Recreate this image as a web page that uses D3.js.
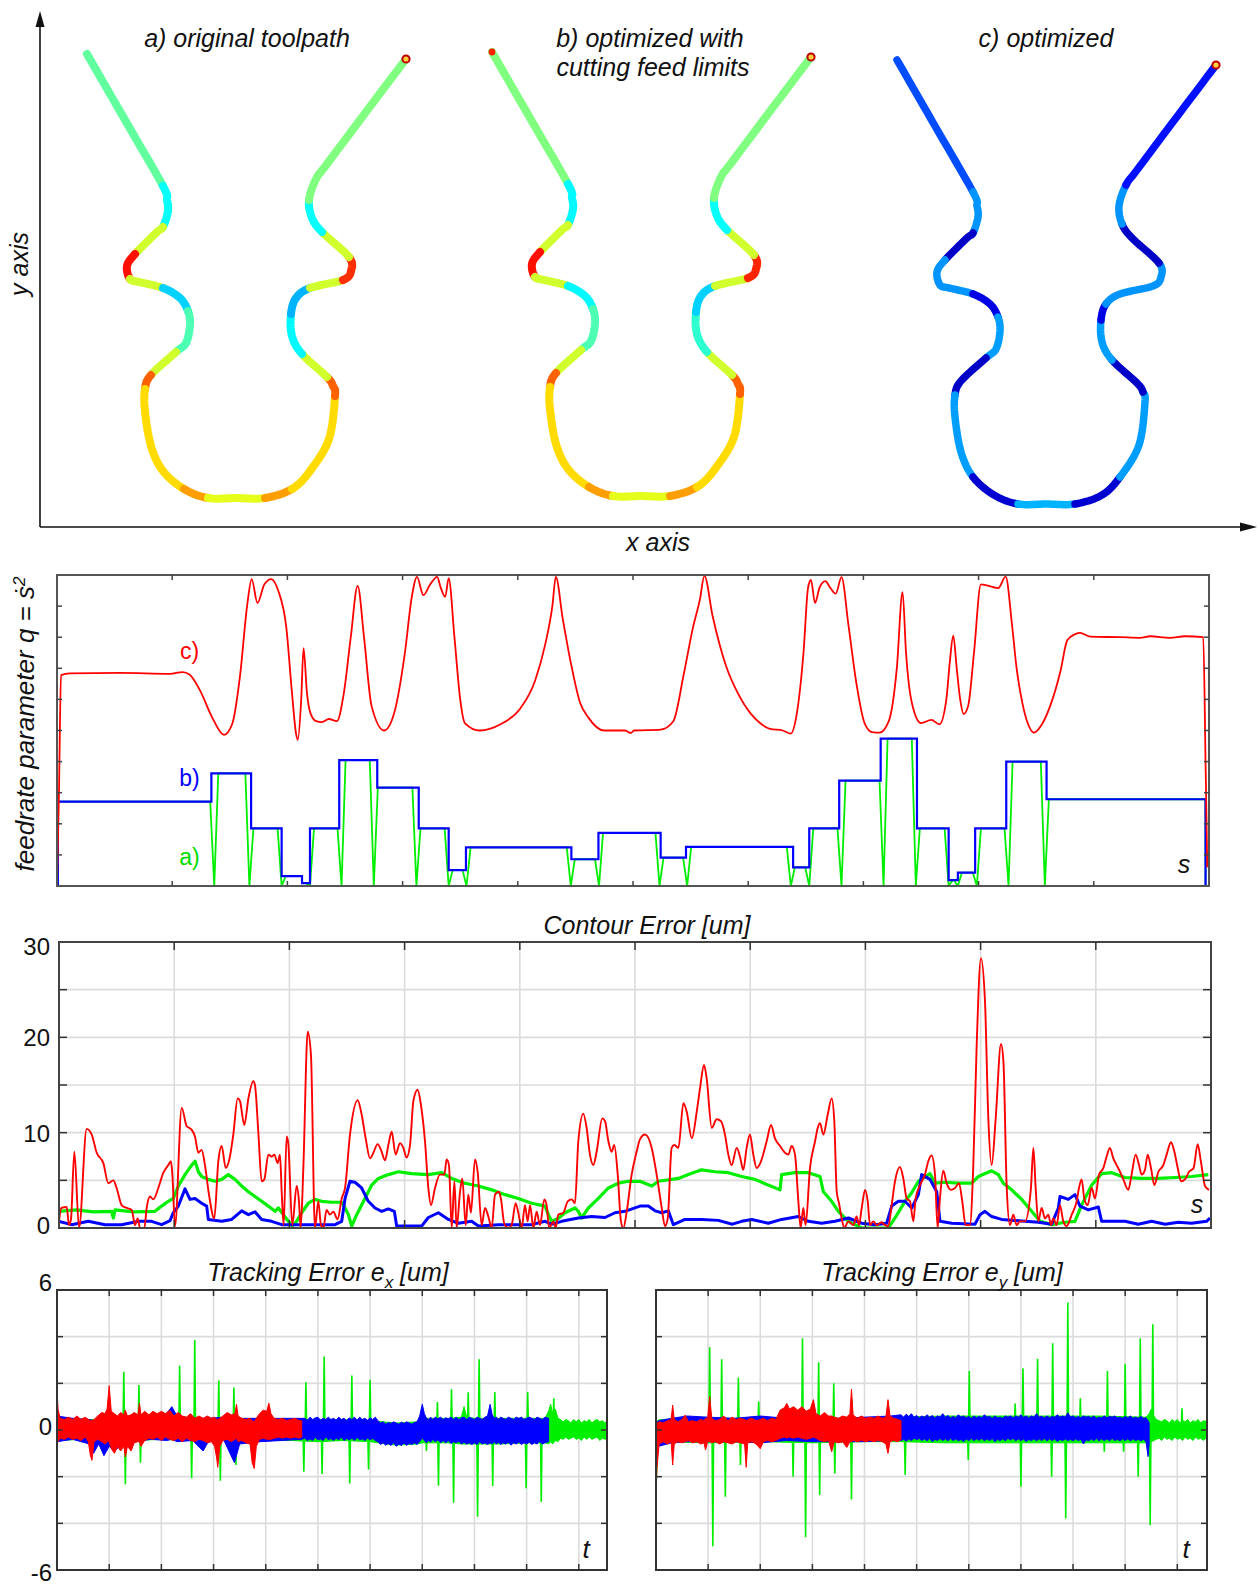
<!DOCTYPE html>
<html><head><meta charset="utf-8">
<script src="https://cdn.jsdelivr.net/npm/d3@7"></script>
<style>
body{margin:0;background:#fff}
svg{display:block}
text{font-family:"Liberation Sans",Arial,Helvetica,sans-serif;fill:#111}
</style></head>
<body><svg id="c" width="1258" height="1585"></svg>
<script>
// ================= DATA =================
// toolpath shape (arbitrary length units)
const pathShape = [[11.75,118.25],[21.25,101.75],[30.75,85.25],[31.75,81.75],[32,79],[30.75,75],[29.25,73.75],[23.75,68.25],[21.75,65.25],[22.5,62],[24.75,61.25],[30.75,59.75],[35,57.25],[37,54],[37.5,50.5],[36.5,46],[34,43.75],[27.75,38],[26.25,34.5],[26.25,29],[27.75,20.25],[30.75,14],[36,9.5],[42,7.25],[49,7.25],[56.25,7.25],[63,9.5],[67.5,14],[72.25,22],[73.75,32.75],[73.25,35.25],[71.75,37.5],[65.5,43.25],[63,47.75],[62.75,53.25],[64,57.25],[67.5,59.75],[75.75,61.75],[77.75,64],[77.25,67.5],[70.5,73.75],[68,77.25],[67.25,81.75],[69,87],[71.75,90.75],[81.6,103.9],[91.5,117]];
const pathOffsets = [[0,0],[101.25,0.5],[202.5,-1.5]];
const pathTitles = [["a) original toolpath"],["b) optimized with","cutting feed limits"],["c) optimized"]];
// feed colour runs [fromIndex, toIndex, normalised feed]
const feedColorsA = [[0,2,0.47],[2,5,0.38],[5,7,0.58],[7,9,0.86],[9,11,0.58],[11,13,0.33],[13,16,0.45],[16,17,0.58],[17,18,0.78],[18,22,0.66],[22,23,0.72],[23,25,0.6],[25,26,0.72],[26,29,0.66],[29,31,0.78],[31,32,0.58],[32,34,0.37],[34,36,0.3],[36,37,0.58],[37,39,0.83],[39,40,0.58],[40,42,0.38],[42,46,0.5]];
const feedColorsB = [[0,2,0.5],[2,5,0.37],[5,7,0.58],[7,9,0.86],[9,11,0.58],[11,13,0.37],[13,16,0.45],[16,17,0.58],[17,18,0.78],[18,22,0.66],[22,23,0.72],[23,25,0.6],[25,26,0.72],[26,29,0.66],[29,31,0.78],[31,32,0.58],[32,34,0.42],[34,36,0.33],[36,37,0.58],[37,39,0.84],[39,40,0.58],[40,42,0.38],[42,46,0.5]];
const feedColorsC = [[0,2,0.2],[2,5,0.27],[5,7,0.07],[7,11,0.27],[11,13,0.1],[13,16,0.28],[16,18,0.07],[18,21,0.28],[21,23,0.08],[23,25,0.3],[25,27,0.08],[27,30,0.28],[30,32,0.07],[32,34,0.28],[34,35,0.1],[35,39,0.27],[39,41,0.07],[41,43,0.27],[43,46,0.14]];

// feedrate parameter panel (s: 0..100, q: 0..10)
const feedC = [[0,0],[0.17,3],[0.35,6.78],[1.1,6.84],[5.5,6.85],[9.8,6.82],[10.9,6.88],[11.5,6.8],[12.4,6.3],[13.5,5.4],[14.5,4.86],[15.2,5.2],[15.9,6.8],[16.5,9.0],[16.9,9.87],[17.4,9.1],[18.0,9.7],[18.6,9.87],[19.2,9.5],[19.9,8.33],[20.4,6.2],[20.75,4.9],[20.9,4.7],[21.2,6.0],[21.4,7.65],[21.7,6.2],[22.0,5.56],[22.5,5.3],[23.0,5.27],[23.6,5.37],[24.3,5.3],[24.9,6.2],[25.5,8.0],[26.1,9.65],[26.65,8.0],[27.3,5.8],[28.4,5.0],[29.3,5.6],[30.2,7.5],[30.8,9.3],[31.25,9.94],[31.8,9.35],[32.4,9.7],[33.0,9.94],[33.3,9.6],[33.7,9.3],[34.0,9.9],[34.5,8.0],[35.0,6.0],[35.4,5.24],[36.7,5.0],[38.5,5.2],[40.2,5.7],[41.5,6.6],[42.4,7.8],[43.0,9.0],[43.3,9.94],[43.9,8.6],[44.7,7.0],[45.4,5.9],[46.1,5.43],[47.5,5.0],[49.3,5.0],[49.8,4.92],[50.1,5.0],[52.4,5.03],[53.5,5.3],[54.4,6.8],[55.2,8.3],[55.8,9.2],[56.2,9.97],[56.9,8.7],[58.1,7.05],[59.1,6.2],[60.2,5.55],[61.0,5.25],[61.9,5.05],[63.0,5.0],[63.7,4.9],[64.2,5.5],[64.8,7.5],[65.2,9.6],[65.45,9.84],[65.8,9.1],[66.2,9.6],[66.7,9.8],[67.1,9.6],[67.6,9.4],[68.1,9.93],[68.7,8.4],[69.4,6.5],[70.1,5.24],[70.75,4.95],[71.4,4.93],[72.2,5.3],[72.9,7.0],[73.4,9.45],[73.7,7.5],[74.2,5.9],[75.0,5.24],[75.9,5.34],[76.6,5.2],[77.2,6.0],[77.5,7.2],[77.8,8.05],[78.1,7.0],[78.4,6.0],[78.7,5.53],[79.1,5.8],[79.6,7.5],[80.2,9.7],[81.7,9.58],[82.35,9.95],[82.9,8.4],[83.3,7.0],[83.8,5.88],[84.3,5.2],[84.8,4.93],[85.5,5.2],[86.3,5.88],[87.1,6.9],[87.7,7.9],[88.4,8.1],[88.8,8.14],[89.7,8.02],[92.3,8.0],[94.0,7.98],[94.9,8.03],[96.6,7.98],[97.9,8.03],[99.5,8.0],[99.7,4],[99.85,0.6]];
const feedBSteps = [[0.08,2.71],[13.4,3.62],[16.85,1.85],[19.5,0.32],[21.27,0.09],[21.96,1.85],[24.5,4.05],[27.8,3.16],[31.4,1.85],[34.0,0.51],[35.5,1.24],[44.65,0.86],[47.0,1.71],[52.4,0.91],[54.6,1.26],[63.9,0.6],[65.3,1.85],[67.9,3.39],[71.5,4.74],[74.65,1.85],[77.4,0.19],[78.2,0.43],[79.7,1.85],[82.4,4.0],[85.9,2.79],[99.7,0]];
const feedADips = [13.65,16.7,19.5,21.96,24.7,27.5,31.2,34.0,35.55,44.6,47.05,52.3,54.7,63.7,65.3,68.1,71.75,74.55,77.4,78.2,79.85,82.6,85.75];
const feedLabels = [["c)",7.3,"#ff0000"],["b)",3.2,"#0000ff"],["a)",0.68,"#00dd00"]];

// contour error (s: 0..100, um)
const ceRed = [[0,0.7],[0.2,2.1],[0.67,2.2],[0.87,0.3],[1.04,0.9],[1.33,8.0],[1.74,0],[2.4,10.4],[2.84,9.8],[3.27,7.9],[3.85,6.8],[4.28,4.7],[4.72,5.0],[5.0,4.2],[5.44,2.4],[5.87,2.1],[6.31,1.9],[6.6,0.3],[6.83,1.0],[7.03,0],[7.41,0],[7.61,2.1],[7.9,3.3],[8.19,3.0],[8.62,4.2],[9.06,5.8],[9.49,6.6],[9.72,7.0],[9.84,5.6],[10.07,0.2],[10.65,12.6],[11.08,10.7],[11.52,10.3],[11.8,9.6],[12.1,7.9],[12.38,8.2],[12.67,6.6],[13.02,3.5],[13.48,1.0],[13.83,7.0],[14.12,8.6],[14.47,6.3],[14.84,7.5],[15.13,9.8],[15.51,13.6],[15.71,13.3],[16.09,10.8],[16.44,13.6],[16.87,15.4],[17.01,15.0],[17.3,10.1],[17.59,4.9],[17.82,5.1],[18.17,7.7],[18.46,7.5],[18.69,7.7],[18.98,6.8],[19.18,7.7],[19.33,3.8],[19.5,0.3],[19.76,9.6],[19.9,8.9],[20.25,0.3],[20.63,4.4],[20.83,2.8],[20.98,0],[21.21,6.3],[21.59,20.6],[21.87,18.2],[22.22,0],[22.51,2.8],[22.74,0.3],[22.95,0],[23.23,1.9],[23.52,1.4],[23.81,1.7],[24.19,0.9],[24.54,3.1],[24.83,4.2],[25.26,9.8],[25.93,13.4],[26.27,11.9],[26.62,9.4],[27.0,7.3],[27.29,7.9],[27.66,8.8],[27.95,8.2],[28.3,7.1],[28.59,8.7],[28.88,10.1],[29.22,7.7],[29.6,8.9],[29.89,8.4],[30.17,7.4],[30.47,8.7],[30.76,13.3],[31.13,14.5],[31.42,12.9],[31.77,9.1],[32.06,4.2],[32.29,2.4],[32.64,4.2],[33.07,5.6],[33.45,5.6],[33.65,7.2],[33.85,6.6],[34.09,0],[34.32,4.9],[34.52,0],[34.81,3.8],[35.01,5.2],[35.3,0.3],[35.53,3.5],[35.76,1.6],[36.11,7.2],[36.34,5.9],[36.69,0.3],[36.98,2.1],[37.27,1.2],[37.56,0],[37.85,3.5],[38.19,3.8],[38.37,3.0],[38.66,0.4],[39.0,0],[39.29,0.3],[39.64,2.6],[39.87,1.6],[40.16,0],[40.45,2.4],[40.68,0.7],[40.89,2.4],[41.18,0],[41.46,1.7],[41.75,0.3],[42.13,3.0],[42.33,2.4],[42.54,0],[42.92,0.7],[43.11,0],[43.34,1.4],[43.78,1.6],[44.16,2.8],[44.5,3.0],[44.79,2.6],[45.08,9.1],[45.51,12.0],[45.8,10.5],[46.09,7.7],[46.38,6.6],[46.67,8.0],[47.16,11.5],[47.4,11.2],[47.69,9.1],[47.97,8.0],[48.2,8.7],[48.5,5.6],[48.78,0.7],[48.99,0],[49.28,1.7],[49.71,5.6],[50.14,8.0],[50.43,9.3],[50.87,9.8],[51.45,8.4],[51.88,5.6],[52.32,2.1],[52.6,0.2],[52.84,1.0],[53.18,8.4],[53.42,8.7],[53.77,8.4],[54.2,13.1],[54.49,12.2],[54.93,9.4],[55.36,12.2],[55.65,14.7],[55.99,17.1],[56.22,15.7],[56.66,10.5],[57.09,11.4],[57.47,11.2],[57.81,9.8],[58.1,7.7],[58.39,6.6],[58.83,8.4],[59.11,7.5],[59.4,6.1],[59.69,8.4],[59.98,9.8],[60.27,7.7],[60.56,6.3],[60.94,7.0],[61.43,9.1],[61.81,10.8],[62.15,9.4],[62.59,8.6],[63.02,7.9],[63.31,7.7],[63.6,8.6],[63.89,7.7],[64.18,2.8],[64.38,0],[64.61,2.1],[64.81,0.3],[65.19,6.3],[65.63,9.1],[65.86,10.5],[66.06,11.0],[66.35,9.8],[66.73,11.9],[67.07,13.6],[67.3,11.2],[67.51,3.8],[67.71,2.6],[67.94,1.0],[68.17,0],[68.52,0.7],[68.95,0.3],[69.24,1.2],[69.44,0.3],[69.68,2.1],[69.97,4.0],[70.2,2.8],[70.4,0.3],[70.69,0.7],[70.98,0.3],[71.41,0.6],[71.7,0.3],[71.99,0.2],[72.28,2.4],[72.57,4.9],[73.0,6.4],[73.29,5.2],[73.58,3.1],[73.87,2.8],[74.16,0.7],[74.36,3.1],[74.74,4.5],[75.17,5.6],[75.46,7.0],[75.75,7.6],[76.04,5.6],[76.27,0],[76.47,3.1],[76.76,6.0],[77.05,4.7],[77.43,4.0],[77.78,4.2],[78.12,4.7],[78.41,2.8],[78.7,0.3],[79.07,0.3],[79.36,6.3],[79.66,19.2],[80.03,28.3],[80.38,23.8],[80.67,11.5],[80.96,6.6],[81.31,11.5],[81.77,19.3],[81.98,17.5],[82.26,4.5],[82.55,0.3],[82.84,1.4],[83.13,0.3],[83.42,0.7],[83.85,0.7],[84.37,4.2],[84.58,8.4],[84.78,4.2],[85.01,0.7],[85.3,2.1],[85.59,1.0],[85.88,1.4],[86.11,0.3],[86.31,1.0],[86.6,0.3],[86.89,2.4],[87.18,0.7],[87.47,0.2],[87.91,1.4],[88.34,2.8],[88.54,4.2],[88.77,5.1],[89.0,3.1],[89.29,2.4],[89.64,4.2],[89.93,3.1],[90.28,5.6],[90.66,6.3],[90.94,7.5],[91.23,8.4],[91.52,7.3],[91.81,6.6],[92.1,5.9],[92.39,5.1],[92.82,4.0],[93.11,5.6],[93.46,7.7],[93.75,6.6],[93.98,5.6],[94.27,6.1],[94.5,7.7],[94.79,6.3],[95.08,4.5],[95.43,5.9],[95.86,6.6],[96.15,7.7],[96.53,9.0],[96.82,8.0],[97.11,6.3],[97.4,4.9],[97.74,5.1],[98.09,5.9],[98.49,6.3],[98.84,8.8],[99.12,7.0],[99.48,4.4],[99.83,4.0]];
const ceGreen = [[0,1.75],[1.5,1.9],[3,1.7],[4.57,1.75],[4.72,1.05],[4.86,1.9],[6.5,1.7],[8.33,1.75],[8.91,2.3],[9.49,2.8],[9.92,3.1],[10.36,4.4],[10.94,5.6],[11.52,6.6],[11.81,7.0],[12.1,5.9],[12.38,5.4],[12.96,5.1],[13.54,4.9],[14.12,5.1],[14.7,5.6],[15.28,5.1],[15.86,4.4],[16.44,3.8],[17.01,3.3],[17.59,2.8],[18.17,2.3],[18.75,1.75],[19.04,2.1],[19.47,1.4],[19.91,0.7],[20.25,0.2],[20.63,0.7],[21.06,1.6],[21.64,2.6],[22.22,3.0],[22.8,2.8],[23.67,2.7],[24.54,2.7],[24.83,2.1],[25.12,1.4],[25.41,0.2],[25.84,1.4],[26.56,3.1],[27.14,4.5],[27.72,5.2],[28.59,5.6],[29.46,5.9],[30.61,5.7],[32.06,5.6],[33.22,5.8],[34.09,5.2],[35.24,4.7],[36.4,4.4],[37.56,4.0],[38.72,3.5],[39.87,3.1],[41.03,2.6],[42.19,2.3],[42.48,1.4],[42.77,0.7],[43.34,1.0],[43.92,1.6],[44.79,2.1],[45.08,1.75],[45.37,1.05],[45.95,2.1],[46.82,3.1],[47.69,4.2],[48.55,4.7],[49.42,4.9],[50.43,4.9],[51.45,4.4],[52.03,4.9],[53.76,5.2],[54.63,5.6],[55.79,6.1],[56.94,5.9],[58.1,5.8],[59.26,5.4],[60.42,5.1],[61.57,4.5],[62.59,4.0],[62.73,5.6],[63.89,5.8],[65.05,5.8],[66.06,5.4],[66.35,3.8],[67.07,2.8],[67.65,1.75],[68.52,0.7],[69.68,0],[72.0,0],[72.57,1.05],[73.44,2.8],[74.02,3.7],[74.6,4.9],[75.61,5.7],[76.04,4.7],[76.91,4.8],[78.07,4.7],[79.22,4.7],[79.8,5.4],[80.96,6.0],[81.54,5.6],[81.97,4.7],[82.7,4.0],[83.56,3.0],[84.43,1.75],[85.16,0.7],[86.17,0.35],[87.33,0.6],[88.19,0.7],[88.77,2.4],[89.64,4.5],[90.51,5.7],[91.38,5.8],[92.53,5.3],[93.98,5.2],[95.43,5.2],[96.88,5.3],[98.32,5.4],[99.77,5.6]];
const ceBlue = [[0,0.7],[1.1,0.35],[2.55,0.7],[3.99,0.35],[5.44,0.35],[6.89,0.7],[8.04,0.7],[8.91,0.35],[9.64,0.77],[9.92,1.6],[10.36,2.3],[10.94,4.1],[11.37,3.0],[11.81,3.1],[12.38,2.6],[12.82,2.3],[12.96,0.9],[14.12,0.7],[14.99,0.9],[15.86,1.8],[16.44,1.4],[17.01,1.7],[17.59,0.9],[18.46,0.7],[19.33,0.35],[21.64,0.35],[23.96,0.35],[24.54,0.7],[24.83,3.1],[25.26,4.9],[25.69,4.8],[26.27,4.2],[26.85,2.8],[27.43,2.1],[28.01,1.75],[28.59,2.0],[29.11,1.75],[29.31,0.2],[31.48,0.2],[32.06,1.1],[32.93,1.6],[33.8,0.9],[34.66,0.5],[35.82,0.7],[36.4,0.2],[38.14,0.35],[41.03,0.35],[42.19,0.7],[42.77,0.4],[43.63,0.7],[45.08,1.05],[46.24,1.2],[47.4,1.1],[48.26,1.6],[49.13,1.75],[50.43,2.3],[51.16,2.3],[51.74,1.8],[52.32,1.6],[52.89,1.8],[53.33,0.35],[54.34,0.9],[55.79,0.9],[57.23,0.8],[58.45,0.4],[59.26,0.7],[60.13,0.9],[61.57,0.5],[62.73,0.9],[64.18,1.2],[65.05,0.7],[66.2,0.5],[67.36,0.7],[68.52,1.05],[69.68,0.5],[70.83,0.35],[71.85,0.5],[72.28,2.3],[72.86,2.8],[73.44,2.8],[74.02,2.1],[74.6,3.5],[74.88,5.6],[75.61,5.1],[76.19,3.8],[76.48,0.7],[77.49,0.5],[79.51,0.4],[79.95,1.4],[80.38,1.75],[80.96,1.2],[81.83,0.9],[83.85,0.7],[85.02,0.6],[86.17,0.4],[86.75,2.1],[86.89,3.3],[87.62,3.0],[88.19,3.5],[88.63,2.3],[89.35,1.9],[90.22,2.2],[90.51,0.7],[92.53,0.7],[93.69,0.4],[94.85,0.7],[96.01,0.4],[97.16,0.6],[98.32,0.5],[99.62,0.7],[99.91,1.05]];
const ceTicks = [0,10,20,30];

// tracking error x: noise envelopes [t, low, high] and spikes [t, value]
const exGreen = [[0,-0.45,0.45],[0.5,-0.4,0.45],[1.0,-0.45,0.45],[1.5,-0.45,0.45],[2.0,-0.4,0.45],[2.5,-0.45,0.45],[3.0,-0.45,0.45],[3.5,-0.4,0.45],[4.0,-0.45,0.45],[4.5,-0.45,0.45],[5.0,-0.5,0.45],[5.5,-0.45,0.45],[6.0,-0.5,0.4],[6.5,-0.65,0.3],[6.9,-0.6,0.35],[7.0,-0.55,0.5],[7.5,-0.55,0.5],[7.75,-0.6,0.55],[7.8,-0.6,1.0],[7.85,-0.6,0.55],[8.0,-0.6,0.5],[8.5,-0.6,0.5],[9.0,-0.55,0.5],[9.35,-0.55,0.5],[9.42,-0.6,0.8],[9.46,-0.5,1.1],[9.5,-0.6,0.7],[9.55,-0.45,0.9],[9.6,-0.5,0.5],[9.65,-0.35,0.45],[9.7,-0.4,0.35],[9.75,-0.3,0.45],[9.8,-0.4,0.4],[9.85,-0.35,0.3],[9.9,-0.3,0.45],[9.95,-0.4,0.35],[10.0,-0.35,0.45],[10.05,-0.45,0.3],[10.1,-0.3,0.4],[10.15,-0.4,0.35],[10.2,-0.3,0.45],[10.25,-0.4,0.3],[10.3,-0.35,0.4],[10.35,-0.3,0.45],[10.4,-0.45,0.35],[10.45,-0.35,0.4],[10.5,-0.4,0.3],[10.54,-0.35,0.4]];
const exBlue = [[0,-0.5,0.6],[0.3,-0.4,0.5],[0.62,-0.6,0.45],[0.7,-1.0,0.4],[0.8,-0.6,0.5],[0.9,-1.1,0.45],[1.0,-0.7,0.5],[1.1,-0.9,0.45],[1.25,-0.6,0.5],[1.5,-0.5,0.55],[1.8,-0.4,0.6],[2.1,-0.45,0.7],[2.2,-0.4,1.0],[2.3,-0.5,0.6],[2.6,-0.45,0.5],[2.8,-0.9,0.5],[2.9,-0.5,0.5],[3.2,-0.45,0.55],[3.4,-1.4,0.5],[3.5,-0.6,0.5],[3.9,-0.5,0.5],[4.3,-0.45,0.5],[4.69,-0.4,0.5],[4.75,-0.35,0.5],[4.8,-0.45,0.42],[4.85,-0.38,0.55],[4.9,-0.45,0.45],[4.95,-0.32,0.52],[5.0,-0.42,0.55],[5.05,-0.38,0.42],[5.1,-0.45,0.5],[5.15,-0.3,0.45],[5.2,-0.42,0.55],[5.25,-0.36,0.45],[5.3,-0.45,0.5],[5.35,-0.35,0.42],[5.4,-0.42,0.55],[5.45,-0.3,0.45],[5.5,-0.45,0.5],[5.55,-0.36,0.4],[5.6,-0.42,0.52],[5.65,-0.35,0.45],[5.7,-0.45,0.55],[5.75,-0.32,0.42],[5.8,-0.42,0.55],[5.85,-0.38,0.45],[5.9,-0.45,0.5],[5.95,-0.35,0.42],[6.0,-0.42,0.52],[6.05,-0.36,0.45],[6.1,-0.45,0.55],[6.15,-0.5,0.4],[6.2,-0.62,0.3],[6.25,-0.55,0.35],[6.3,-0.65,0.25],[6.35,-0.58,0.32],[6.4,-0.66,0.28],[6.45,-0.55,0.35],[6.5,-0.7,0.3],[6.55,-0.6,0.25],[6.6,-0.66,0.33],[6.65,-0.56,0.28],[6.7,-0.65,0.35],[6.75,-0.58,0.3],[6.8,-0.62,0.25],[6.85,-0.55,0.32],[6.9,-0.62,0.35],[6.95,-0.5,0.6],[7.0,-0.35,1.1],[7.04,-0.45,0.7],[7.08,-0.55,0.5],[7.12,-0.45,0.45],[7.16,-0.52,0.55],[7.2,-0.4,0.45],[7.25,-0.5,0.55],[7.3,-0.42,0.48],[7.35,-0.55,0.55],[7.4,-0.45,0.45],[7.45,-0.55,0.52],[7.5,-0.45,0.48],[7.55,-0.58,0.55],[7.6,-0.5,0.45],[7.65,-0.55,0.55],[7.7,-0.48,0.45],[7.75,-0.6,0.52],[7.8,-0.52,0.55],[7.85,-0.6,0.45],[7.9,-0.55,0.55],[7.95,-0.62,0.5],[8.0,-0.55,0.45],[8.05,-0.62,0.55],[8.1,-0.5,0.5],[8.15,-0.6,0.45],[8.2,-0.55,0.55],[8.25,-0.62,0.6],[8.3,-0.55,1.1],[8.34,-0.6,0.65],[8.38,-0.5,0.5],[8.42,-0.6,0.55],[8.46,-0.52,0.45],[8.5,-0.62,0.55],[8.55,-0.55,0.5],[8.6,-0.6,0.45],[8.65,-0.52,0.55],[8.7,-0.65,0.5],[8.75,-0.55,0.45],[8.8,-0.6,0.55],[8.85,-0.52,0.5],[8.9,-0.62,0.55],[8.95,-0.55,0.45],[9.0,-0.6,0.5],[9.05,-0.52,0.55],[9.1,-0.62,0.5],[9.15,-0.55,0.45],[9.2,-0.6,0.55],[9.25,-0.5,0.5],[9.3,-0.6,0.45],[9.35,-0.55,0.55],[9.42,-0.5,0.5]];
const exRed = [[0,-0.6,1.7],[0.02,-0.5,0.9],[0.06,-0.35,0.5],[0.14,-0.4,0.45],[0.22,-0.3,0.55],[0.30,-0.4,0.45],[0.38,-0.35,0.6],[0.46,-0.45,0.45],[0.54,-0.3,0.55],[0.6,-0.5,0.45],[0.64,-1.1,0.4],[0.67,-1.3,0.4],[0.71,-0.5,0.45],[0.78,-0.4,0.6],[0.86,-0.5,0.75],[0.92,-0.6,0.7],[0.96,-0.5,0.9],[1.0,-0.5,1.9],[1.04,-0.8,0.8],[1.1,-1.0,0.7],[1.16,-0.7,0.6],[1.22,-0.9,0.75],[1.28,-0.7,0.65],[1.31,-1.15,0.85],[1.35,-0.7,0.6],[1.42,-0.9,0.65],[1.48,-0.55,0.75],[1.55,-0.5,0.65],[1.58,-0.5,1.15],[1.61,-0.7,0.65],[1.68,-0.45,0.8],[1.76,-0.35,0.65],[1.84,-0.4,0.8],[1.92,-0.3,0.7],[2.0,-0.45,0.8],[2.08,-0.3,0.7],[2.16,-0.4,0.85],[2.24,-0.45,0.6],[2.32,-0.35,0.75],[2.4,-0.5,0.6],[2.48,-0.35,0.55],[2.56,-0.45,0.7],[2.64,-0.5,0.5],[2.72,-0.4,0.6],[2.8,-0.45,0.5],[2.88,-0.55,0.6],[2.96,-0.5,0.5],[3.02,-0.7,0.55],[3.06,-1.2,0.45],[3.08,-1.6,0.45],[3.12,-0.7,0.5],[3.18,-0.45,0.6],[3.26,-0.4,0.75],[3.34,-0.5,0.65],[3.41,-0.4,0.7],[3.44,-0.35,1.1],[3.47,-0.5,0.6],[3.54,-0.45,0.5],[3.62,-0.55,0.45],[3.7,-0.6,0.5],[3.74,-1.4,0.4],[3.78,-1.65,0.35],[3.82,-0.7,0.5],[3.88,-0.4,0.7],[3.95,-0.35,0.85],[4.02,-0.4,0.8],[4.06,-0.4,1.15],[4.1,-0.4,0.7],[4.16,-0.35,0.5],[4.24,-0.3,0.45],[4.32,-0.35,0.5],[4.4,-0.3,0.4],[4.48,-0.35,0.45],[4.56,-0.3,0.5],[4.64,-0.35,0.4],[4.69,-0.3,0.4]];
const exSpikes = [[1.28,2.5],[1.31,-2.32],[1.57,1.93],[1.6,-1.4],[2.35,2.75],[2.58,-2.07],[2.64,3.86],[3.1,2.12],[3.13,-2.17],[3.39,1.82],[3.43,-1.5],[4.73,-1.79],[4.77,2.05],[5.08,-1.89],[5.12,3.15],[5.61,-2.29],[5.65,2.33],[5.97,-1.69],[6.0,2.15],[7.08,-0.9],[7.29,1.2],[7.31,-2.39],[7.56,1.75],[7.6,-3.12],[7.88,1.62],[8.06,-3.72],[8.09,3.03],[8.35,-2.4],[8.39,1.63],[8.99,-2.5],[9.02,1.63],[9.28,-3.08],[9.52,1.36]];

// tracking error y
const eyGreen = [[0,-3.0,0.3],[0.03,-0.8,0.4],[0.08,-0.5,0.45],[1,-0.55,0.5],[2,-0.5,0.5],[3,-0.55,0.5],[4,-0.5,0.5],[4.7,-0.5,0.55],[5.5,-0.55,0.6],[6.5,-0.55,0.6],[7.5,-0.55,0.6],[8.5,-0.55,0.6],[9.4,-0.55,0.55],[9.46,-0.6,0.7],[9.5,-0.5,0.9],[9.55,-0.45,0.6],[9.6,-0.4,0.45],[9.65,-0.35,0.4],[9.7,-0.45,0.35],[9.75,-0.3,0.45],[9.8,-0.4,0.4],[9.85,-0.35,0.3],[9.9,-0.45,0.45],[9.95,-0.3,0.35],[10.0,-0.4,0.45],[10.05,-0.35,0.3],[10.1,-0.45,0.4],[10.15,-0.3,0.35],[10.2,-0.4,0.45],[10.25,-0.35,0.3],[10.3,-0.45,0.4],[10.35,-0.3,0.35],[10.4,-0.4,0.45],[10.45,-0.35,0.3],[10.5,-0.45,0.4],[10.57,-0.3,0.35]];
const eyBlue = [[0,-1.3,0.3],[0.05,-0.7,0.4],[0.3,-0.55,0.5],[0.6,-0.5,0.6],[1.0,-0.5,0.55],[1.5,-0.5,0.5],[2.0,-0.55,0.6],[2.5,-0.45,0.5],[3.0,-0.5,0.55],[3.5,-0.5,0.5],[4.0,-0.5,0.55],[4.5,-0.45,0.6],[4.7,-0.45,0.65],[4.75,-0.4,0.55],[4.8,-0.48,0.68],[4.85,-0.38,0.58],[4.9,-0.45,0.7],[4.95,-0.35,0.55],[5.0,-0.42,0.62],[5.05,-0.36,0.52],[5.1,-0.45,0.6],[5.15,-0.38,0.55],[5.2,-0.46,0.65],[5.25,-0.36,0.55],[5.3,-0.5,0.62],[5.35,-0.4,0.52],[5.4,-0.45,0.6],[5.45,-0.36,0.55],[5.5,-0.45,0.7],[5.55,-0.38,0.55],[5.6,-0.46,0.62],[5.65,-0.36,0.52],[5.7,-0.45,0.58],[5.75,-0.38,0.52],[5.8,-0.46,0.65],[5.85,-0.4,0.55],[5.9,-0.5,0.6],[5.95,-0.38,0.52],[6.0,-0.45,0.58],[6.05,-0.36,0.5],[6.1,-0.45,0.6],[6.15,-0.38,0.52],[6.2,-0.44,0.58],[6.25,-0.36,0.52],[6.3,-0.46,0.65],[6.35,-0.38,0.55],[6.4,-0.45,0.58],[6.45,-0.36,0.5],[6.5,-0.5,0.6],[6.55,-0.4,0.52],[6.6,-0.45,0.55],[6.65,-0.38,0.5],[6.7,-0.46,0.6],[6.75,-0.36,0.55],[6.8,-0.42,0.6],[6.85,-0.36,0.52],[6.9,-0.46,0.6],[6.95,-0.38,0.55],[7.0,-0.45,0.65],[7.05,-0.38,0.55],[7.1,-0.5,0.6],[7.15,-0.4,0.52],[7.2,-0.45,0.6],[7.25,-0.38,0.55],[7.3,-0.46,0.7],[7.35,-0.38,0.55],[7.4,-0.45,0.58],[7.45,-0.36,0.52],[7.5,-0.46,0.6],[7.55,-0.38,0.52],[7.6,-0.45,0.58],[7.65,-0.38,0.55],[7.7,-0.5,0.65],[7.75,-0.4,0.55],[7.8,-0.45,0.6],[7.85,-0.38,0.55],[7.9,-0.45,0.74],[7.95,-0.4,0.55],[8.0,-0.46,0.6],[8.05,-0.38,0.52],[8.1,-0.45,0.58],[8.15,-0.4,0.52],[8.2,-0.6,0.6],[8.25,-0.42,0.55],[8.3,-0.46,0.58],[8.35,-0.38,0.52],[8.4,-0.45,0.6],[8.45,-0.36,0.5],[8.5,-0.46,0.55],[8.55,-0.38,0.52],[8.6,-0.45,0.6],[8.65,-0.38,0.52],[8.7,-0.46,0.58],[8.75,-0.36,0.55],[8.8,-0.45,0.6],[8.85,-0.4,0.52],[8.9,-0.46,0.55],[8.95,-0.38,0.5],[9.0,-0.45,0.58],[9.05,-0.38,0.52],[9.1,-0.46,0.6],[9.15,-0.38,0.5],[9.2,-0.45,0.55],[9.25,-0.4,0.5],[9.3,-0.46,0.58],[9.35,-0.4,0.5],[9.4,-0.5,0.52],[9.44,-1.14,0.4],[9.46,-0.6,0.3]];
const eyRed = [[0,-2.7,0.3],[0.02,-1.6,0.3],[0.06,-0.6,0.35],[0.14,-0.5,0.3],[0.22,-0.6,0.4],[0.29,-0.5,0.45],[0.32,-1.5,1.07],[0.35,-0.6,0.45],[0.42,-0.5,0.35],[0.5,-0.55,0.45],[0.56,-0.5,0.64],[0.62,-0.45,0.35],[0.7,-0.55,0.4],[0.78,-0.5,0.35],[0.86,-0.6,0.45],[0.92,-0.55,0.4],[0.95,-0.86,0.5],[0.99,-0.5,0.5],[1.03,-0.5,1.43],[1.07,-0.55,0.5],[1.14,-0.5,0.4],[1.22,-0.6,0.45],[1.3,-0.5,0.6],[1.38,-0.55,0.4],[1.46,-0.6,0.55],[1.54,-0.5,0.45],[1.62,-0.55,0.5],[1.7,-0.6,0.45],[1.73,-1.6,0.4],[1.76,-0.55,0.45],[1.84,-0.5,0.5],[1.92,-0.6,0.4],[2.0,-0.8,0.45],[2.06,-0.5,0.5],[2.14,-0.45,0.4],[2.22,-0.5,0.5],[2.3,-0.45,0.45],[2.38,-0.35,0.85],[2.46,-0.3,0.95],[2.51,-0.35,1.14],[2.56,-0.3,0.9],[2.64,-0.35,1.0],[2.72,-0.3,0.85],[2.8,-0.35,1.0],[2.88,-0.4,0.8],[2.96,-0.35,0.9],[3.02,-0.3,1.3],[3.07,-0.35,0.7],[3.15,-0.45,0.6],[3.23,-0.5,0.75],[3.31,-0.45,0.6],[3.37,-0.93,0.6],[3.42,-0.5,0.55],[3.5,-0.55,0.5],[3.58,-0.5,0.6],[3.66,-0.75,0.55],[3.72,-0.5,0.7],[3.75,-0.5,1.75],[3.78,-0.45,0.65],[3.86,-0.5,0.5],[3.94,-0.45,0.6],[4.02,-0.5,0.5],[4.1,-0.45,0.55],[4.18,-0.5,0.5],[4.26,-0.45,0.6],[4.34,-0.5,0.5],[4.41,-0.6,0.55],[4.45,-1.0,1.3],[4.49,-0.5,0.6],[4.56,-0.45,0.5],[4.64,-0.5,0.45],[4.7,-0.4,0.4]];
const eySpikes = [[1.03,3.55],[1.09,-4.98],[1.26,3.03],[1.33,-2.86],[1.58,2.25],[1.62,-1.5],[1.97,1.22],[2.63,-2.0],[2.81,3.93],[2.87,-4.6],[3.12,2.9],[3.14,-2.79],[3.41,2.0],[3.43,-1.86],[3.75,-2.98],[3.76,1.33],[4.78,-1.93],[5.99,-1.29],[6.01,2.53],[6.89,1.14],[7.0,-2.43],[7.04,2.65],[7.32,3.05],[7.59,-2.0],[7.61,3.72],[7.86,-3.79],[7.9,5.46],[8.14,1.36],[8.6,-0.93],[8.66,2.53],[8.97,-0.93],[9.0,2.83],[9.25,-2.0],[9.29,3.93],[9.48,-4.08],[9.53,4.53],[10.09,0.93]];
const teTicks = [-6,0,6];

// ================= DRAWING =================
const svg = d3.select('#c');
const RED = '#ff0000', GREEN = '#00ee00', BLUE = '#0000ff';
const jet = d3.scaleLinear().domain([0,0.125,0.375,0.625,0.875,1])
  .range(['#00007f','#0000ff','#00ffff','#ffff00','#ff0000','#7f0000']).interpolate(d3.interpolateRgb);
const defs = svg.append('defs');
function clip(id,x0,y0,x1,y1){defs.append('clipPath').attr('id',id).append('rect').attr('x',x0).attr('y',y0).attr('width',x1-x0).attr('height',y1-y0);}

// ---------- top: toolpaths ----------
const topX = d3.scaleLinear().domain([0,303.75]).range([40,1255]);
const topY = d3.scaleLinear().domain([0,128.75]).range([527,12]);
const gTop = svg.append('g');
gTop.append('line').attr('x1',topX(0)).attr('y1',topY(0)).attr('x2',topX(0)).attr('y2',22).attr('stroke','#111').attr('stroke-width',1.6);
gTop.append('line').attr('x1',topX(0)).attr('y1',topY(0)).attr('x2',1244).attr('y2',topY(0)).attr('stroke','#111').attr('stroke-width',1.6);
gTop.append('path').attr('d',`M${topX(0)},11 L${topX(0)-4.5},27 L${topX(0)+4.5},27 Z`).attr('fill','#111');
gTop.append('path').attr('d',`M1257,${topY(0)} L1240,${topY(0)-4.5} L1240,${topY(0)+4.5} Z`).attr('fill','#111');
gTop.append('text').attr('transform','translate(28,264) rotate(-90)').attr('text-anchor','middle').attr('font-size',25).attr('font-style','italic').text('y axis');
gTop.append('text').attr('x',658).attr('y',551).attr('text-anchor','middle').attr('font-size',25).attr('font-style','italic').text('x axis');

function crPoint(P,i,u){
  const p0=P[Math.max(i-1,0)],p1=P[i],p2=P[i+1],p3=P[Math.min(i+2,P.length-1)];
  const u2=u*u,u3=u2*u;
  const f=k=>0.5*((2*p1[k])+(-p0[k]+p2[k])*u+(2*p0[k]-5*p1[k]+4*p2[k]-p3[k])*u2+(-p0[k]+3*p1[k]-3*p2[k]+p3[k])*u3);
  return [f(0),f(1)];
}
const tpLine = d3.line().x(d=>topX(d[0])).y(d=>topY(d[1]));
const runsAll = [feedColorsA, feedColorsB, feedColorsC];
const titleX = [247, 650, 1046];
pathOffsets.forEach((off,k)=>{
  const P = pathShape.map(p=>[p[0]+off[0], p[1]+off[1]]);
  const g = gTop.append('g');
  runsAll[k].forEach(r=>{
    const pts=[];
    for(let i=r[0];i<r[1];i++){ for(let u=0;u<1;u+=0.1) pts.push(crPoint(P,i,u)); }
    pts.push(P[r[1]]);
    g.append('path').attr('d',tpLine(pts)).attr('fill','none').attr('stroke',jet(r[2]))
      .attr('stroke-width',k===2?7.5:8).attr('stroke-linecap','round').attr('stroke-linejoin','round');
  });
  const end = P[P.length-1];
  g.append('circle').attr('cx',topX(end[0])).attr('cy',topY(end[1])).attr('r',3.6).attr('fill','#ffd040').attr('stroke','#c00000').attr('stroke-width',2);
  if(k===1){ g.append('circle').attr('cx',topX(P[0][0])).attr('cy',topY(P[0][1])).attr('r',3.4).attr('fill','#ff2000'); }
  pathTitles[k].forEach((t,j)=>{
    gTop.append('text').attr('x',titleX[k]+(j?3:0)).attr('y',47+j*29).attr('text-anchor','middle')
      .attr('font-size',25).attr('font-style','italic').text(t);
  });
});

// ---------- feedrate panel ----------
const F = {x0:57,x1:1209,y0:575,y1:886};
const fx = d3.scaleLinear().domain([0,100]).range([F.x0,F.x1]);
const fy = d3.scaleLinear().domain([0,10]).range([F.y1,F.y0]);
clip('cf',F.x0,F.y0-2,F.x1,F.y1);
const gF = svg.append('g');
const gFc = gF.append('g').attr('clip-path','url(#cf)');
// green (a): same levels as b with dips to zero
const greenPts=[[0,0],[feedBSteps[0][0],feedBSteps[0][1]]];
for(let i=1;i<feedBSteps.length;i++){
  const b=feedBSteps[i][0], L0=feedBSteps[i-1][1], L1=feedBSteps[i][1];
  const d=feedADips.find(v=>Math.abs(v-b)<0.45);
  if(d!==undefined){ greenPts.push([d-0.35,L0],[d,0],[d+0.35,L1]); }
  else { greenPts.push([b,L0],[b,L1]); }
}
greenPts.push([100,0]);
gFc.append('path').attr('d',d3.line().x(d=>fx(d[0])).y(d=>fy(d[1]))(greenPts))
  .attr('fill','none').attr('stroke',GREEN).attr('stroke-width',1.8);
const bluePts=[[0,0],...feedBSteps,[100,0]];
gFc.append('path').attr('d',d3.line().curve(d3.curveStepAfter).x(d=>fx(d[0])).y(d=>fy(d[1]))(bluePts))
  .attr('fill','none').attr('stroke',BLUE).attr('stroke-width',2.2);
gFc.append('path').attr('d',d3.line().curve(d3.curveMonotoneX).x(d=>fx(d[0])).y(d=>fy(d[1]))(feedC))
  .attr('fill','none').attr('stroke',RED).attr('stroke-width',1.8);
gF.append('rect').attr('x',F.x0).attr('y',F.y0).attr('width',F.x1-F.x0).attr('height',F.y1-F.y0)
  .attr('fill','none').attr('stroke','#555').attr('stroke-width',2);
d3.range(1,10).forEach(v=>{
  gF.append('line').attr('x1',F.x0).attr('x2',F.x0+5).attr('y1',fy(v)).attr('y2',fy(v)).attr('stroke','#444').attr('stroke-width',1.5);
  gF.append('line').attr('x1',F.x1).attr('x2',F.x1-5).attr('y1',fy(v)).attr('y2',fy(v)).attr('stroke','#444').attr('stroke-width',1.5);
});
d3.range(10,100,10).forEach(v=>{
  gF.append('line').attr('x1',fx(v)).attr('x2',fx(v)).attr('y1',F.y0).attr('y2',F.y0+5).attr('stroke','#444').attr('stroke-width',1.5);
  gF.append('line').attr('x1',fx(v)).attr('x2',fx(v)).attr('y1',F.y1).attr('y2',F.y1-5).attr('stroke','#444').attr('stroke-width',1.5);
});
feedLabels.forEach(l=>{
  gF.append('text').attr('x',fx(11.5)).attr('y',fy(l[1])).attr('text-anchor','middle').attr('font-size',23)
    .style('fill',l[2]).text(l[0]);
});
gF.append('text').attr('x',1184).attr('y',873).attr('text-anchor','middle').attr('font-size',25).attr('font-style','italic').text('s');
const ylab = gF.append('text').attr('transform','translate(34,724) rotate(-90)').attr('text-anchor','middle')
  .attr('font-size',26).attr('font-style','italic');
ylab.append('tspan').text('feedrate parameter q = \u1E61');
ylab.append('tspan').attr('dy',-9).attr('font-size',17).text('2');

// ---------- contour error ----------
const C = {x0:59,x1:1211,y0:942,y1:1228};
const cx = d3.scaleLinear().domain([0,100]).range([C.x0,C.x1]);
const cy = d3.scaleLinear().domain([0,30]).range([C.y1,C.y0]);
clip('cc',C.x0,C.y0,C.x1,C.y1);
const gC = svg.append('g');
d3.range(5,30,5).forEach(v=>gC.append('line').attr('x1',C.x0).attr('x2',C.x1).attr('y1',cy(v)).attr('y2',cy(v)).attr('stroke','#dcdcdc').attr('stroke-width',1.6));
d3.range(10,100,10).forEach(v=>gC.append('line').attr('x1',cx(v)).attr('x2',cx(v)).attr('y1',C.y0).attr('y2',C.y1).attr('stroke','#dcdcdc').attr('stroke-width',1.6));
const gCc = gC.append('g').attr('clip-path','url(#cc)');
const cLine = d3.line().x(d=>cx(d[0])).y(d=>cy(d[1]));
gCc.append('path').attr('d',cLine(ceGreen)).attr('fill','none').attr('stroke',GREEN).attr('stroke-width',3.2).attr('stroke-linejoin','round');
gCc.append('path').attr('d',cLine(ceBlue)).attr('fill','none').attr('stroke',BLUE).attr('stroke-width',3).attr('stroke-linejoin','round');
gCc.append('path').attr('d',d3.line().curve(d3.curveMonotoneX).x(d=>cx(d[0])).y(d=>cy(Math.max(d[1],-0.3)))(ceRed))
  .attr('fill','none').attr('stroke',RED).attr('stroke-width',1.9);
gC.append('rect').attr('x',C.x0).attr('y',C.y0).attr('width',C.x1-C.x0).attr('height',C.y1-C.y0)
  .attr('fill','none').attr('stroke','#444').attr('stroke-width',2);
d3.range(5,30,5).forEach(v=>{
  gC.append('line').attr('x1',C.x0).attr('x2',C.x0+8).attr('y1',cy(v)).attr('y2',cy(v)).attr('stroke','#333').attr('stroke-width',1.5);
  gC.append('line').attr('x1',C.x1).attr('x2',C.x1-8).attr('y1',cy(v)).attr('y2',cy(v)).attr('stroke','#333').attr('stroke-width',1.5);
});
d3.range(10,100,10).forEach(v=>{
  gC.append('line').attr('x1',cx(v)).attr('x2',cx(v)).attr('y1',C.y0).attr('y2',C.y0+8).attr('stroke','#333').attr('stroke-width',1.5);
  gC.append('line').attr('x1',cx(v)).attr('x2',cx(v)).attr('y1',C.y1).attr('y2',C.y1-8).attr('stroke','#333').attr('stroke-width',1.5);
});
ceTicks.forEach(v=>gC.append('text').attr('x',50).attr('y',cy(v)+(v===30?13:(v===0?6:9))).attr('text-anchor','end').attr('font-size',24).text(v));
gC.append('text').attr('x',647).attr('y',934).attr('text-anchor','middle').attr('font-size',25).attr('font-style','italic').text('Contour Error [um]');
gC.append('text').attr('x',1197).attr('y',1213).attr('text-anchor','middle').attr('font-size',25).attr('font-style','italic').text('s');

// ---------- tracking errors ----------
function tracking(id, X0, X1, tMax, green, blue, red, spikes, sub, titleCx, showLabels){
  const T = {x0:X0,x1:X1,y0:1290,y1:1570};
  const tx = d3.scaleLinear().domain([0,tMax]).range([T.x0,T.x1]);
  const ty = d3.scaleLinear().domain([-6,6]).range([T.y1,T.y0]);
  clip(id,T.x0,T.y0,T.x1,T.y1);
  const g = svg.append('g');
  d3.range(-4,6,2).forEach(v=>g.append('line').attr('x1',T.x0).attr('x2',T.x1).attr('y1',ty(v)).attr('y2',ty(v)).attr('stroke','#dcdcdc').attr('stroke-width',1.6));
  d3.range(1,Math.floor(tMax)+1).forEach(v=>g.append('line').attr('x1',tx(v)).attr('x2',tx(v)).attr('y1',T.y0).attr('y2',T.y1).attr('stroke','#dcdcdc').attr('stroke-width',1.6));
  const gc = g.append('g').attr('clip-path',`url(#${id})`);
  const area = d3.area().x(d=>tx(d[0])).y0(d=>ty(d[1])).y1(d=>ty(d[2]));
  const ln = d3.line().x(d=>tx(d[0])).y(d=>ty(d[1]));
  gc.append('path').attr('d',area(green)).attr('fill',GREEN).attr('stroke',GREEN).attr('stroke-width',1);
  spikes.forEach(s=>gc.append('path').attr('d',ln([[s[0]-0.015,0],[s[0],s[1]],[s[0]+0.015,0]]))
    .attr('fill','none').attr('stroke',GREEN).attr('stroke-width',1.6));
  gc.append('path').attr('d',area(blue)).attr('fill',BLUE).attr('stroke',BLUE).attr('stroke-width',1);
  gc.append('path').attr('d',area(red)).attr('fill',RED).attr('stroke',RED).attr('stroke-width',1);
  g.append('rect').attr('x',T.x0).attr('y',T.y0).attr('width',T.x1-T.x0).attr('height',T.y1-T.y0)
    .attr('fill','none').attr('stroke','#333').attr('stroke-width',2);
  d3.range(-4,6,2).forEach(v=>{
    g.append('line').attr('x1',T.x0).attr('x2',T.x0+6).attr('y1',ty(v)).attr('y2',ty(v)).attr('stroke','#333').attr('stroke-width',1.5);
    g.append('line').attr('x1',T.x1).attr('x2',T.x1-6).attr('y1',ty(v)).attr('y2',ty(v)).attr('stroke','#333').attr('stroke-width',1.5);
  });
  d3.range(1,Math.floor(tMax)+1).forEach(v=>{
    g.append('line').attr('x1',tx(v)).attr('x2',tx(v)).attr('y1',T.y0).attr('y2',T.y0+6).attr('stroke','#333').attr('stroke-width',1.5);
    g.append('line').attr('x1',tx(v)).attr('x2',tx(v)).attr('y1',T.y1).attr('y2',T.y1-6).attr('stroke','#333').attr('stroke-width',1.5);
  });
  if(showLabels){
    teTicks.forEach(v=>g.append('text').attr('x',52).attr('y',ty(v)+(v===6?1:(v===0?5:11))).attr('text-anchor','end').attr('font-size',24).text(v));
  }
  const tt = g.append('text').attr('x',titleCx).attr('y',1281).attr('text-anchor','middle').attr('font-size',25).attr('font-style','italic');
  tt.append('tspan').text('Tracking Error e');
  tt.append('tspan').attr('dy',7).attr('font-size',17).text(sub);
  tt.append('tspan').attr('dy',-7).text(' [um]');
  g.append('text').attr('x',tx(tMax)-21).attr('y',1558).attr('text-anchor','middle').attr('font-size',26).attr('font-style','italic').text('t');
}
tracking('tx',57,607,10.54,exGreen,exBlue,exRed,exSpikes,'x',328,true);
tracking('ty',656,1207,10.57,eyGreen,eyBlue,eyRed,eySpikes,'y',942,false);
</script>
</body></html>
